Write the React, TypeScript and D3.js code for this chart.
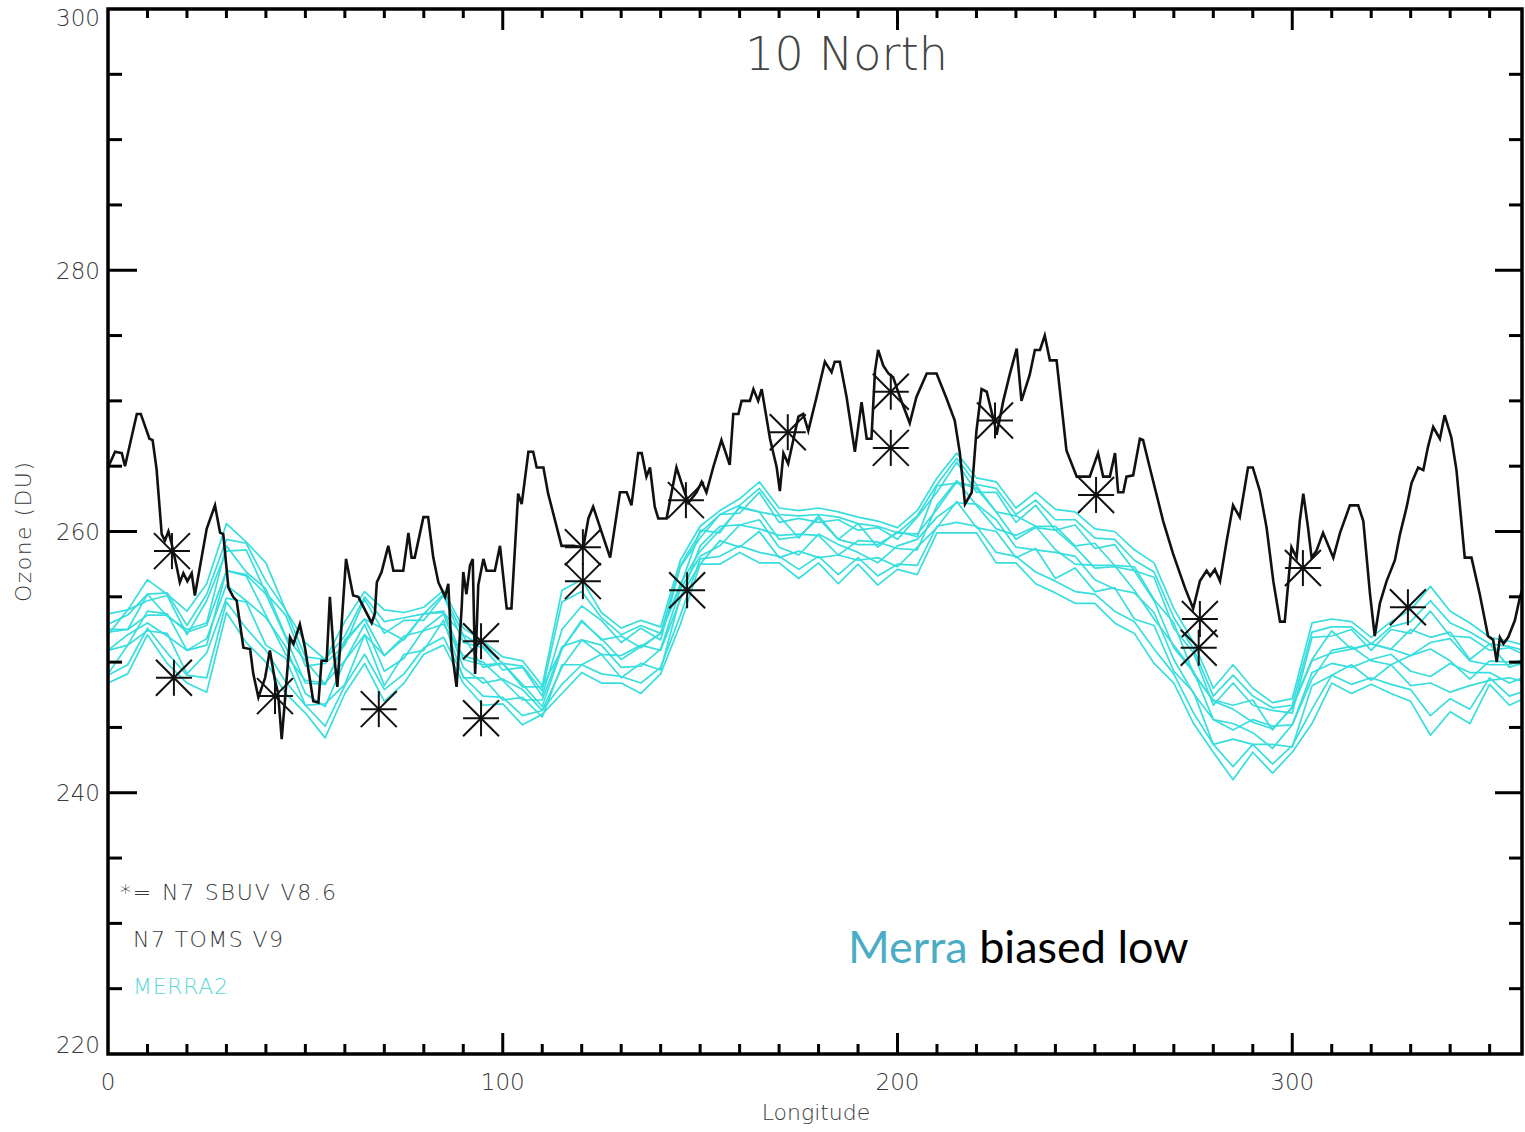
import React, { useEffect, useRef } from 'react';
import * as d3 from 'd3';

const width = 1525;
const height = 1132;
const plot = { left: 108, right: 1522, top: 9, bottom: 1054 };

// axis ticks / labels
const xLabels = [0, 100, 200, 300];
const yLabels = [220, 240, 260, 280, 300];

// N7 TOMS V9 (black line)
const tomsLon = [
  0, 1.8, 3.5, 4.3, 7.3, 8.3, 10.5, 11.3, 12.3, 13.6, 14.4, 15.3, 16.1, 17.4, 18.2, 19.1, 20.1, 21.2, 22.0, 23.3,
  25.0, 27.1, 28.4, 29.2, 30.5, 31.7, 32.6, 34.3, 36.0, 36.8, 38.1, 39.8, 41.0, 42.3, 43.1, 44.0, 44.8, 46.1, 47.0, 48.6,
  49.9, 52.0, 53.3, 54.1, 55.4, 56.2, 57.1, 58.1, 60.3, 62.1, 63.4, 66.8, 67.6, 68.1, 69.3, 71.0, 72.3, 74.8, 76.1, 76.9,
  77.7, 79.9, 81.1, 82.4, 83.7, 85.4, 86.2, 87.0, 88.3, 89.6, 90.0, 90.8, 91.7, 92.4, 93.0, 93.8, 95.1, 95.9, 98.0, 99.3,
  101.0, 102.2, 103.9, 104.8, 106.5, 107.7, 108.6, 110.3, 111.5, 114.9, 117.9, 120.4, 121.7, 122.9, 127.2, 129.7, 131.4, 132.6, 134.3, 135.2,
  136.4, 137.3, 138.5, 139.4, 141.5, 144.0, 145.3, 147.0, 149.1, 150.4, 151.6, 153.3, 155.4, 157.5, 158.4, 159.7, 160.5, 162.6, 163.5, 164.7,
  165.6, 167.7, 169.4, 170.2, 171.1, 172.3, 173.6, 174.9, 176.1, 177.4, 179.5, 181.6, 183.3, 184.1, 185.4, 187.1, 189.2, 190.9, 192.2, 193.4,
  194.3, 195.1, 196.4, 197.7, 198.9, 200.6, 203.1, 204.8, 207.4, 209.9, 212.4, 214.5, 215.8, 217.1, 218.8, 220.0, 221.3, 222.6, 224.7, 225.1,
  226.8, 228.5, 230.2, 231.4, 233.5, 234.8, 236.1, 237.3, 238.6, 240.3, 242.8, 245.4, 248.7, 250.8, 252.1, 253.8, 255.1, 255.9, 257.2, 258.0,
  259.7, 261.4, 262.2, 263.9, 267.3, 269.8, 272.8, 274.9, 276.6, 278.3, 279.2, 280.4, 281.7, 283.4, 285.0, 286.7, 288.8, 290.0, 291.8, 293.5,
  295.2, 296.9, 298.1, 299.8, 301.1, 301.9, 302.8, 304.0, 304.9, 306.1, 307.8, 310.4, 312.1, 314.6, 316.7, 318.0, 319.7, 320.9, 322.2, 323.9,
  326.0, 327.3, 329.0, 330.2, 331.9, 333.2, 334.4, 335.7, 337.4, 338.6, 340.3, 341.6, 343.7, 345.4, 347.5, 349.6, 350.9, 351.8, 352.6, 353.5,
  354.7, 356.4, 357.7, 358.2,
];
const tomsOzone = [
  264.9, 266.1, 266.0, 265.0, 269.0, 269.0, 267.1, 267.0, 264.8, 259.8, 259.3, 260.0, 259.1, 257.3, 256.1, 256.8, 256.2, 256.8, 255.1, 257.3,
  260.2, 262.0, 259.9, 259.8, 255.7, 255.0, 254.7, 251.1, 251.0, 249.1, 247.3, 248.8, 250.9, 248.6, 247.6, 244.1, 247.0, 251.9, 251.4, 252.9,
  251.1, 247.0, 246.9, 250.1, 250.1, 255.0, 251.1, 248.1, 257.9, 255.1, 255.0, 253.0, 253.7, 256.1, 256.9, 258.9, 257.0, 257.0, 259.9, 258.0,
  258.0, 261.1, 261.1, 258.0, 256.1, 255.0, 256.0, 251.1, 248.1, 254.2, 256.9, 255.2, 257.4, 257.9, 249.1, 255.9, 257.9, 257.0, 257.0, 258.9,
  254.1, 254.1, 262.9, 262.1, 266.1, 266.1, 264.9, 264.9, 262.9, 258.9, 258.9, 258.8, 261.0, 261.9, 258.0, 263.0, 263.0, 262.0, 266.0, 266.0,
  264.2, 264.9, 261.9, 261.0, 261.0, 264.9, 263.7, 262.2, 263.0, 263.8, 263.0, 264.9, 267.0, 265.1, 269.0, 269.0, 270.0, 270.0, 270.9, 270.0,
  270.9, 267.1, 264.9, 263.1, 266.0, 265.2, 267.0, 268.8, 269.0, 267.7, 270.3, 273.0, 272.2, 273.0, 273.0, 270.3, 266.1, 269.9, 267.1, 267.1,
  272.3, 273.9, 272.7, 272.1, 271.8, 270.3, 268.3, 270.3, 272.1, 272.1, 270.2, 268.5, 266.0, 262.1, 263.0, 267.7, 270.9, 270.7, 268.1, 267.4,
  270.0, 272.1, 274.0, 270.0, 272.0, 273.9, 273.9, 275.0, 273.1, 273.1, 266.2, 264.2, 264.2, 266.0, 264.2, 264.2, 266.0, 263.0, 263.0, 264.2,
  264.3, 267.1, 267.0, 264.9, 260.8, 258.3, 255.7, 254.1, 256.2, 257.0, 256.6, 257.1, 256.2, 259.3, 262.0, 261.1, 264.9, 264.9, 263.1, 260.3,
  256.2, 253.1, 253.1, 258.8, 258.0, 260.8, 262.9, 260.3, 258.0, 258.5, 259.9, 258.0, 259.9, 262.0, 262.0, 260.8, 255.2, 252.0, 254.5, 256.2,
  257.8, 259.8, 261.9, 263.7, 264.9, 264.7, 266.5, 268.0, 267.1, 268.9, 267.2, 264.7, 258.0, 258.0, 255.2, 252.0, 251.7, 250.0, 251.9, 251.4,
  251.9, 253.2, 255.0, 255.5,
];

// N7 SBUV V8.6 (asterisks)
const sbuvLon = [16.2, 16.7, 42.3, 68.6, 94.5, 94.5, 120.3, 120.3, 146.4, 146.7, 172.2, 198.3, 198.3, 224.7, 250.3, 276.6, 276.3, 302.7, 329.3];
const sbuvOzone = [258.5, 248.8, 247.4, 246.4, 251.6, 245.7, 258.8, 256.2, 262.4, 255.5, 267.6, 270.7, 266.4, 268.5, 262.8, 253.3, 251.1, 257.2, 254.2];

// MERRA2 (cyan ensemble), every 5 degrees longitude
const merraLon = [
  0, 5, 10, 15, 20, 25, 30, 35, 40, 45, 50, 55, 60, 65, 70, 75, 80, 85, 90, 95,
  100, 105, 110, 115, 120, 125, 130, 135, 140, 145, 150, 155, 160, 165, 170, 175, 180, 185, 190, 195,
  200, 205, 210, 215, 220, 225, 230, 235, 240, 245, 250, 255, 260, 265, 270, 275, 280, 285, 290, 295,
  300, 305, 310, 315, 320, 325, 330, 335, 340, 345, 350, 355, 360,
];
const merraA = [
  253.7, 254.0, 256.3, 255.2, 253.9, 256.0, 260.6, 259.2, 257.6, 254.0, 251.5, 250.2, 253.1, 255.4, 254.0, 253.8, 254.2, 255.5, 252.6, 251.6,
  250.4, 250.1, 248.2, 255.5, 256.3, 253.8, 252.6, 253.2, 252.7, 257.8, 260.4, 261.6, 262.5, 263.8, 261.8, 261.6, 261.8, 261.5, 261.1, 260.8,
  260.3, 261.6, 264.1, 266.0, 264.1, 263.8, 261.8, 263.0, 261.7, 261.5, 260.2, 260.0, 258.6, 257.6, 254.1, 251.5, 248.0, 249.8, 248.0, 246.9,
  247.2, 253.0, 253.3, 253.1, 251.9, 253.1, 254.0, 255.8, 253.9, 253.0, 251.9, 251.6, 251.2,
];
const merraB = [
  252.9, 253.6, 255.2, 255.3, 252.8, 255.2, 259.4, 259.1, 256.2, 254.0, 250.4, 250.2, 252.0, 255.0, 253.1, 253.4, 253.7, 255.2, 252.1, 251.2,
  249.9, 249.7, 247.8, 254.6, 255.4, 253.4, 252.1, 252.8, 252.2, 257.4, 259.9, 261.3, 262.0, 263.3, 261.3, 261.2, 261.3, 261.1, 260.6, 260.4,
  259.9, 261.2, 263.6, 265.6, 263.6, 263.3, 261.3, 262.4, 260.9, 260.9, 259.5, 259.4, 257.8, 256.9, 253.4, 251.0, 247.4, 249.0, 247.4, 246.5,
  246.7, 252.3, 252.7, 252.7, 251.4, 252.7, 253.1, 254.7, 253.0, 252.3, 251.4, 251.2, 250.8,
];
const merraC = [
  252.1, 254.0, 254.7, 255.1, 252.1, 254.7, 258.5, 258.6, 255.3, 253.6, 249.7, 249.9, 251.3, 254.8, 252.2, 253.2, 253.2, 255.1, 251.5, 251.1,
  249.4, 249.6, 247.4, 252.5, 254.3, 253.2, 251.5, 252.6, 251.7, 257.3, 259.5, 261.3, 261.4, 263.0, 260.7, 261.0, 260.7, 260.9, 260.1, 260.3,
  259.4, 261.1, 263.0, 265.3, 263.0, 263.0, 260.7, 262.0, 260.1, 260.5, 258.7, 259.0, 257.0, 256.5, 252.6, 250.7, 246.7, 248.4, 246.7, 246.3,
  246.1, 251.9, 252.0, 252.5, 250.9, 252.5, 252.2, 253.9, 252.0, 251.9, 250.9, 251.1, 250.4,
];
const merraD = [
  252.5, 252.5, 255.2, 253.5, 252.5, 253.0, 258.9, 256.9, 255.6, 252.0, 250.1, 248.3, 251.7, 253.3, 252.5, 251.7, 253.7, 253.8, 252.0, 249.6,
  249.9, 248.1, 248.1, 251.0, 253.2, 251.7, 252.0, 251.1, 252.2, 255.8, 260.1, 259.9, 261.9, 261.5, 261.2, 259.5, 261.2, 259.4, 260.6, 258.8,
  260.0, 259.6, 263.5, 263.7, 263.5, 261.5, 261.2, 260.4, 260.4, 258.9, 259.1, 257.4, 257.3, 254.8, 253.0, 249.1, 247.1, 246.7, 247.1, 244.8,
  246.6, 250.2, 252.4, 251.0, 251.4, 251.0, 252.5, 251.9, 252.3, 250.2, 251.4, 249.6, 250.1,
];
const merraE = [
  252.3, 252.5, 253.6, 253.6, 252.3, 252.8, 257.0, 256.7, 255.2, 251.9, 248.4, 248.3, 251.5, 253.3, 250.5, 251.8, 253.7, 253.9, 250.2, 249.8,
  249.9, 248.3, 246.6, 251.0, 253.1, 251.8, 250.2, 251.2, 252.2, 256.0, 258.5, 260.1, 261.8, 261.5, 259.4, 259.6, 261.0, 259.4, 259.0, 259.0,
  259.9, 259.8, 261.7, 263.8, 263.3, 261.5, 259.4, 260.3, 260.1, 258.8, 257.2, 257.3, 257.0, 254.7, 251.1, 249.2, 247.0, 246.4, 245.4, 244.9,
  246.5, 250.1, 250.7, 251.0, 251.4, 251.0, 250.5, 251.5, 251.8, 250.1, 249.8, 249.8, 250.4,
];
const merraF = [
  250.9, 251.3, 253.9, 253.7, 250.9, 251.3, 257.0, 256.6, 253.6, 250.6, 248.6, 248.4, 250.1, 252.1, 250.5, 252.0, 252.4, 252.9, 250.5, 250.0,
  248.6, 247.1, 247.1, 251.2, 251.7, 250.6, 250.5, 251.3, 250.9, 254.8, 258.9, 260.4, 260.5, 260.2, 259.7, 259.8, 259.7, 258.2, 259.3, 259.2,
  258.7, 258.6, 262.0, 263.9, 262.0, 260.2, 259.7, 260.4, 258.6, 257.5, 257.4, 257.4, 255.5, 253.3, 251.3, 249.3, 245.6, 244.8, 245.6, 245.1,
  245.2, 248.7, 250.9, 251.2, 250.1, 249.8, 250.5, 251.0, 250.1, 248.7, 250.1, 250.0, 249.6,
];
const merraG = [
  250.9, 252.1, 253.0, 252.0, 250.9, 251.8, 255.9, 254.7, 253.4, 251.2, 247.6, 246.6, 250.1, 252.9, 249.3, 250.3, 252.5, 253.7, 249.6, 248.4,
  248.7, 247.9, 246.3, 249.6, 251.7, 251.3, 249.6, 249.7, 251.0, 255.6, 258.1, 258.9, 260.5, 260.9, 258.8, 258.2, 259.8, 259.0, 258.4, 257.6,
  258.9, 259.4, 261.1, 262.2, 262.1, 260.9, 258.8, 258.6, 258.4, 258.1, 256.3, 255.6, 255.3, 253.8, 250.2, 247.6, 245.6, 245.3, 244.6, 243.4,
  245.2, 249.2, 249.9, 249.6, 250.2, 250.6, 249.3, 248.9, 249.9, 249.2, 249.2, 248.4, 249.0,
];
const merraH = [
  249.1, 251.3, 252.4, 252.2, 249.1, 250.7, 254.9, 254.6, 251.3, 250.3, 246.7, 246.8, 248.3, 252.1, 248.2, 250.6, 250.9, 253.2, 248.8, 248.8,
  247.1, 247.3, 245.8, 249.8, 249.8, 250.6, 248.8, 249.9, 249.4, 255.0, 257.5, 259.3, 258.8, 260.0, 258.0, 258.5, 258.0, 258.2, 257.8, 258.0,
  257.3, 258.8, 260.3, 262.3, 260.3, 260.0, 258.0, 258.7, 256.4, 257.2, 255.4, 255.7, 253.3, 252.8, 249.3, 247.7, 243.7, 244.1, 243.7, 243.7,
  243.5, 248.2, 249.0, 249.8, 248.6, 249.8, 248.2, 248.4, 247.7, 248.2, 248.6, 248.8, 248.4,
];
const merraI = [
  249.0, 249.8, 252.6, 250.7, 249.0, 248.8, 254.6, 252.6, 250.9, 248.5, 246.7, 245.1, 248.2, 250.6, 247.9, 249.1, 251.1, 251.9, 248.9, 247.4,
  247.3, 245.9, 246.3, 248.3, 249.8, 249.1, 248.9, 248.4, 249.6, 253.6, 257.9, 258.1, 258.9, 258.4, 258.1, 257.1, 258.1, 256.7, 258.0, 256.6,
  257.5, 257.4, 260.4, 260.7, 260.4, 258.4, 258.1, 256.9, 256.2, 255.4, 255.2, 253.9, 253.1, 251.0, 249.1, 246.1, 243.7, 242.0, 243.7, 242.2,
  243.6, 246.4, 249.0, 248.3, 248.8, 248.3, 247.9, 245.9, 247.2, 246.4, 248.8, 247.4, 247.9,
];
const merraJ = [
  248.4, 249.1, 252.1, 249.9, 248.4, 247.7, 253.8, 251.5, 250.0, 247.6, 246.1, 244.2, 247.6, 249.9, 247.0, 248.4, 250.6, 251.3, 248.4, 246.7,
  246.8, 245.2, 246.0, 247.6, 249.2, 248.4, 248.4, 247.6, 249.1, 252.9, 257.5, 257.5, 258.4, 257.6, 257.6, 256.4, 257.6, 256.0, 257.5, 255.9,
  257.1, 256.7, 259.9, 259.9, 259.9, 257.6, 257.6, 256.0, 255.3, 254.5, 254.5, 253.0, 252.2, 249.9, 248.4, 245.3, 243.1, 241.0, 243.1, 241.5,
  243.1, 245.3, 248.4, 247.6, 248.3, 247.6, 247.0, 244.4, 246.2, 245.3, 248.3, 246.7, 247.4,
];
const merraRuns = [merraA, merraB, merraC, merraD, merraE, merraF, merraG, merraH, merraI, merraJ];

const cyan = '#38dede';
const axisFont = "'DejaVu Sans', 'Liberation Sans', sans-serif";

function drawChart(node: SVGSVGElement) {
  const svg = d3.select(node);
  svg.selectAll('*').remove();

  const x = d3.scaleLinear().domain([0, 358.2]).range([plot.left, plot.right]);
  const y = d3.scaleLinear().domain([220, 300]).range([plot.bottom, plot.top]);

  svg.append('rect').attr('width', width).attr('height', height).attr('fill', '#fff');

  svg.append('defs').append('clipPath').attr('id', 'plot-clip')
    .append('rect')
    .attr('x', plot.left).attr('y', plot.top)
    .attr('width', plot.right - plot.left).attr('height', plot.bottom - plot.top);

  const data = svg.append('g').attr('clip-path', 'url(#plot-clip)');

  const line = d3.line<[number, number]>()
    .x(function(d) { return x(d[0]); })
    .y(function(d) { return y(d[1]); });

  // MERRA2 ensemble
  data.selectAll('.merra')
    .data(merraRuns)
    .enter().append('path')
    .attr('class', 'merra')
    .attr('fill', 'none')
    .attr('stroke', cyan)
    .attr('stroke-width', 1.7)
    .attr('stroke-linejoin', 'round')
    .attr('d', function(run) {
      return line(run.map(function(v, i) { return [merraLon[i], v] as [number, number]; }));
    });

  // TOMS
  data.append('path')
    .attr('fill', 'none')
    .attr('stroke', '#111')
    .attr('stroke-width', 2.6)
    .attr('stroke-linejoin', 'miter')
    .attr('d', line(tomsLon.map(function(l, i) { return [l, tomsOzone[i]] as [number, number]; })));

  // SBUV asterisks
  const r = 18;
  const star = data.selectAll('.star')
    .data(sbuvLon.map(function(l, i) { return { lon: l, oz: sbuvOzone[i] }; }))
    .enter().append('g')
    .attr('class', 'star')
    .attr('transform', function(d) { return 'translate(' + x(d.lon) + ',' + y(d.oz) + ')'; })
    .attr('stroke', '#111')
    .attr('stroke-width', 2);
  [[-r, 0, r, 0], [0, -r, 0, r], [-r, -r, r, r], [-r, r, r, -r]].forEach(function(s) {
    star.append('line').attr('x1', s[0]).attr('y1', s[1]).attr('x2', s[2]).attr('y2', s[3]);
  });

  // frame
  const axes = svg.append('g').attr('stroke', '#000').attr('stroke-linecap', 'butt');
  axes.append('rect')
    .attr('x', plot.left).attr('y', plot.top)
    .attr('width', plot.right - plot.left).attr('height', plot.bottom - plot.top)
    .attr('fill', 'none').attr('stroke-width', 3.5);

  const xTicks = d3.range(10, 360, 10);
  axes.selectAll('.xtick-b')
    .data(xTicks).enter().append('line')
    .attr('stroke-width', 3)
    .attr('x1', function(d) { return x(d); }).attr('x2', function(d) { return x(d); })
    .attr('y1', plot.bottom)
    .attr('y2', function(d) { return plot.bottom - (d % 100 === 0 ? 21 : 10); });
  axes.selectAll('.xtick-t')
    .data(xTicks).enter().append('line')
    .attr('stroke-width', 3)
    .attr('x1', function(d) { return x(d); }).attr('x2', function(d) { return x(d); })
    .attr('y1', plot.top)
    .attr('y2', function(d) { return plot.top + (d % 100 === 0 ? 21 : 9); });

  const yTicks = d3.range(225, 300, 5);
  axes.selectAll('.ytick-l')
    .data(yTicks).enter().append('line')
    .attr('stroke-width', 3)
    .attr('y1', function(d) { return y(d); }).attr('y2', function(d) { return y(d); })
    .attr('x1', plot.left)
    .attr('x2', function(d) { return plot.left + (d % 20 === 0 ? 29 : 14); });
  axes.selectAll('.ytick-r')
    .data(yTicks).enter().append('line')
    .attr('stroke-width', 3)
    .attr('y1', function(d) { return y(d); }).attr('y2', function(d) { return y(d); })
    .attr('x1', plot.right)
    .attr('x2', function(d) { return plot.right - (d % 20 === 0 ? 27 : 13); });

  // tick labels
  const labels = svg.append('g')
    .attr('font-family', axisFont)
    .attr('font-weight', 300)
    .attr('fill', '#3a3a3a');

  labels.selectAll('.xlabel')
    .data(xLabels).enter().append('text')
    .attr('x', function(d) { return x(d); })
    .attr('y', 1090)
    .attr('font-size', 23)
    .attr('text-anchor', 'middle')
    .text(function(d) { return d; });

  labels.selectAll('.ylabel')
    .data(yLabels).enter().append('text')
    .attr('x', 100)
    .attr('y', function(d) { return Math.min(1045, Math.max(18, y(d))); })
    .attr('dy', '0.36em')
    .attr('font-size', 23)
    .attr('text-anchor', 'end')
    .text(function(d) { return d; });

  labels.append('text')
    .attr('x', 816).attr('y', 1120)
    .attr('font-size', 22)
    .attr('text-anchor', 'middle')
    .text('Longitude');

  labels.append('text')
    .attr('transform', 'translate(31,532) rotate(-90)')
    .attr('font-size', 22)
    .attr('text-anchor', 'middle')
    .attr('textLength', 140)
    .text('Ozone (DU)');

  labels.append('text')
    .attr('x', 745).attr('y', 70)
    .attr('font-size', 46)
    .attr('fill', '#444')
    .attr('textLength', 203)
    .text('10 North');

  // legend
  labels.append('text')
    .attr('x', 120).attr('y', 900)
    .attr('font-size', 22)
    .attr('textLength', 216)
    .text('*= N7 SBUV V8.6');
  labels.append('text')
    .attr('x', 133).attr('y', 947)
    .attr('font-size', 22)
    .attr('textLength', 150)
    .text('N7 TOMS V9');
  labels.append('text')
    .attr('x', 133).attr('y', 994)
    .attr('font-size', 22)
    .attr('fill', '#5ad8d8')
    .attr('textLength', 95)
    .text('MERRA2');

  // annotation
  const note = svg.append('text')
    .attr('x', 848).attr('y', 963)
    .attr('font-family', "Lato, 'Open Sans', sans-serif")
    .attr('font-size', 45);
  note.append('tspan').attr('fill', '#4bacc6').text('Merra');
  note.append('tspan').attr('fill', '#000').text(' biased low');
}

export default function App() {
  const ref = useRef<SVGSVGElement>(null);

  useEffect(() => {
    if (ref.current) drawChart(ref.current);
  }, []);

  return (
    <svg
      ref={ref}
      width={width}
      height={height}
      style={{ position: 'absolute', left: 0, top: 0, display: 'block' }}
    />
  );
}
